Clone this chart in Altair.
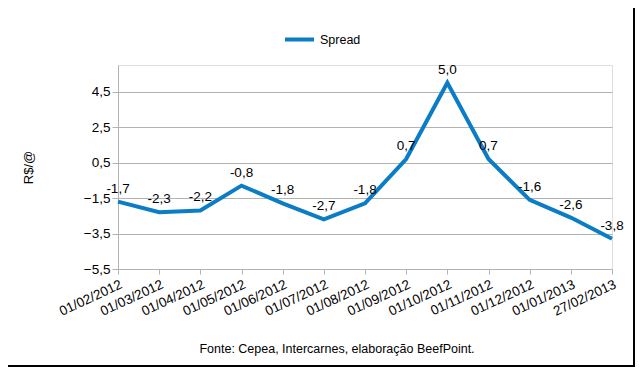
import altair as alt
import pandas as pd

dates = ["01/02/2012", "01/03/2012", "01/04/2012", "01/05/2012", "01/06/2012",
         "01/07/2012", "01/08/2012", "01/09/2012", "01/10/2012", "01/11/2012",
         "01/12/2012", "01/01/2013", "27/02/2013"]
spread = [-1.7, -2.3, -2.2, -0.8, -1.8, -2.7, -1.8, 0.7, 5.0, 0.7, -1.6, -2.6, -3.8]
y_ticks = [-5.5, -3.5, -1.5, 0.5, 2.5, 4.5]
series_name = "Spread"
footer = "Fonte: Cepea, Intercarnes, elaboração BeefPoint."

df = pd.DataFrame({
    "data": dates,
    "valor": spread,
    "rotulo": [f"{v:.1f}".replace(".", ",") for v in spread],
    "serie": [series_name] * len(dates),
})

W, H = 494, 204
FONT = "Liberation Sans"
BLUE = "#0b7dc6"
GRID = "#b3b3b3"

x_enc = alt.X("data:N", sort=dates, title=None,
              scale=alt.Scale(paddingOuter=0, padding=0),
              axis=alt.Axis(labelAngle=-25, labelAlign="right", labelBaseline="top",
                            labelFontSize=13.5, labelColor="#000", labelFont=FONT,
                            tickColor=GRID, domainColor=GRID, tickSize=5,
                            labelPadding=3, grid=False))
y_enc = alt.Y("valor:Q", title="R$/@",
              scale=alt.Scale(domain=[-5.5, 6.0], nice=False, zero=False),
              axis=alt.Axis(values=y_ticks,
                            labelExpr="replace(format(datum.value, '.1f'), '.', ',')",
                            labelFontSize=13.5, labelColor="#000", labelFont=FONT,
                            tickColor=GRID, domainColor=GRID, gridColor=GRID,
                            tickSize=6, labelPadding=2,
                            titleFont=FONT, titleFontSize=13, titleFontWeight="normal",
                            titleColor="#000", titlePadding=48))

base = alt.Chart(df)

line = base.mark_line(strokeWidth=4, color=BLUE).encode(
    x=x_enc, y=y_enc,
    color=alt.Color("serie:N", scale=alt.Scale(range=[BLUE]), title=None,
                    legend=alt.Legend(orient="none", legendX=165, legendY=-42,
                                      symbolType="stroke", symbolStrokeWidth=4,
                                      symbolSize=841, labelFontSize=12.5,
                                      labelFont=FONT, labelColor="#000")),
)

labels = base.mark_text(dy=-9, fontSize=13.5, font=FONT, color="#000",
                        baseline="alphabetic").encode(
    x=alt.X("data:N", sort=dates), y="valor:Q", text="rotulo:N")

one = alt.Data(values=[{"k": 1}])
foot = alt.Chart(one).mark_text(fontSize=12.5, font=FONT, color="#000",
                                align="center", baseline="alphabetic").encode(
    x=alt.value(219), y=alt.value(288), text=alt.value(footer))

frame = alt.Chart(one).mark_rule(color="#000", strokeWidth=2).encode(
    x=alt.value(W + 22), y=alt.value(-65), y2=alt.value(H + 98))
frame2 = alt.Chart(one).mark_rule(color="#000", strokeWidth=2).encode(
    x=alt.value(-118), x2=alt.value(W + 23), y=alt.value(H + 97))

chart = alt.layer(line, labels, foot, frame, frame2).properties(
    width=W, height=H,
    autosize=alt.AutoSizeParams(type="none"),
    padding={"left": 110, "top": 57, "right": 23, "bottom": 98},
).configure_view(stroke=GRID).configure(background="white")

chart.save("out.html", embed_options={"renderer": "svg", "actions": False})
